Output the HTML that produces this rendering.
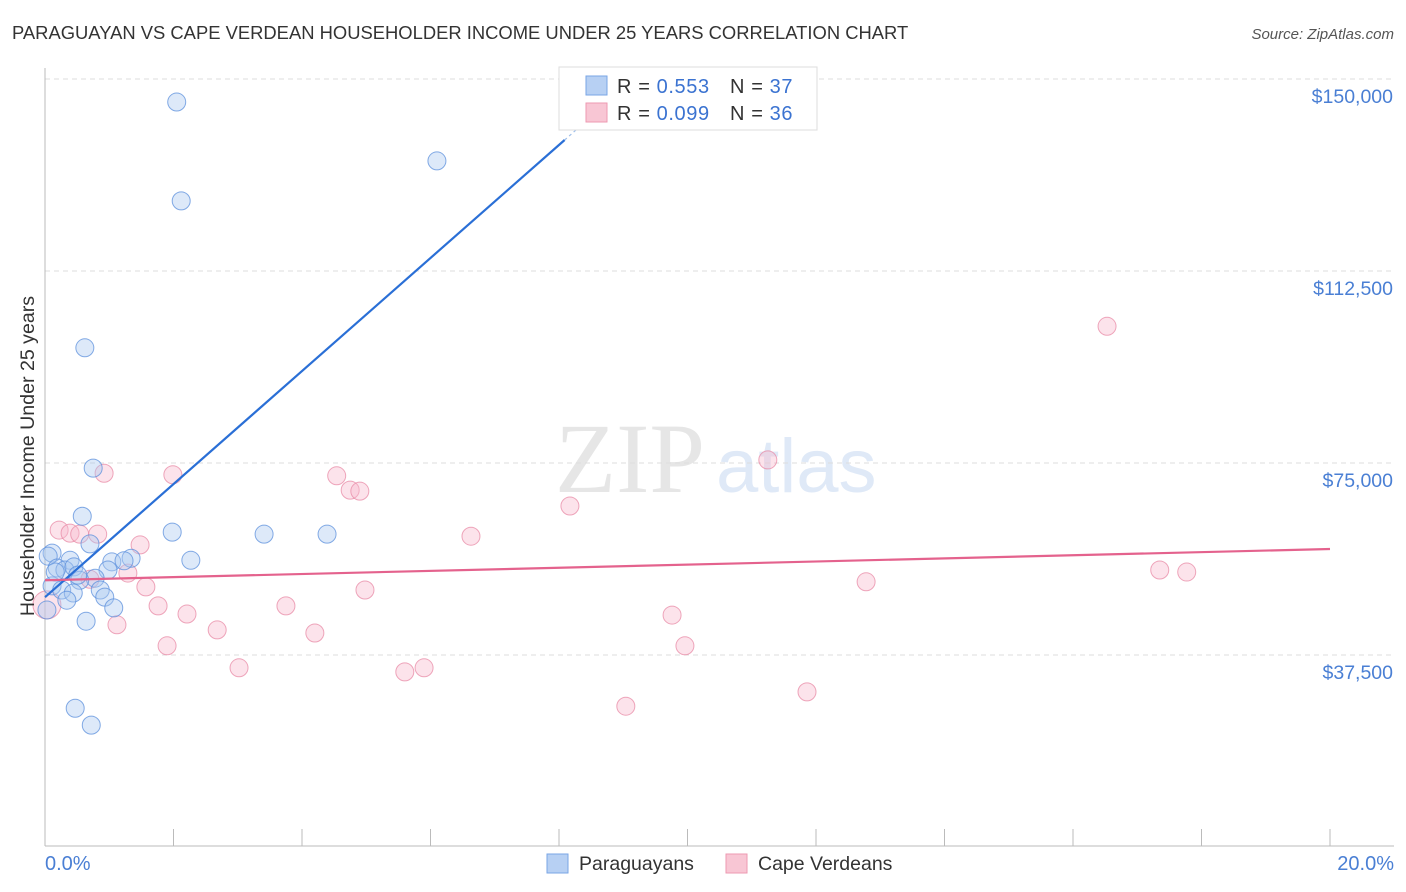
<!DOCTYPE html>
<html><head><meta charset="utf-8"><style>
body{margin:0;background:#fff;font-family:"Liberation Sans",sans-serif;}
svg{display:block}
</style></head><body>
<svg id="chart" width="1406" height="892">
<text x="12" y="39" font-size="18.4" fill="#333">PARAGUAYAN VS CAPE VERDEAN HOUSEHOLDER INCOME UNDER 25 YEARS CORRELATION CHART</text>
<text x="1394" y="39" font-size="15" fill="#555" font-style="italic" text-anchor="end">Source: ZipAtlas.com</text>
<text x="555" y="492" font-size="100" fill="#e6e6e6" font-family="Liberation Serif,serif">ZIP</text>
<text x="716" y="492" font-size="76" fill="#dfe9f7">atlas</text>
<g id="grid"></g><g id="axes"></g><g id="marks"></g>
<text transform="translate(34,456) rotate(-90)" font-size="19.6" fill="#333" text-anchor="middle">Householder Income Under 25 years</text>
<text x="45" y="870" font-size="20" fill="#4a7fd4">0.0%</text>
<text x="1394" y="870" font-size="20" fill="#4a7fd4" text-anchor="end">20.0%</text>
<g>
<rect x="559" y="67" width="258" height="63" fill="#fff" stroke="#ddd"/>
<rect x="586" y="76" width="21" height="19" fill="#b7d0f3" stroke="#7aa6e6"/>
<rect x="586" y="103" width="21" height="19" fill="#f8c6d4" stroke="#ee99b2"/>
<text x="617" y="93" font-size="20" fill="#333" letter-spacing="0.6">R = <tspan fill="#3b73d1">0.553</tspan></text>
<text x="730" y="93" font-size="20" fill="#333" letter-spacing="0.6">N = <tspan fill="#3b73d1">37</tspan></text>
<text x="617" y="120" font-size="20" fill="#333" letter-spacing="0.6">R = <tspan fill="#3b73d1">0.099</tspan></text>
<text x="730" y="120" font-size="20" fill="#333" letter-spacing="0.6">N = <tspan fill="#3b73d1">36</tspan></text>
</g>
<g>
<rect x="547" y="854" width="21" height="19" fill="#b7d0f3" stroke="#7aa6e6"/>
<text x="579" y="870" font-size="19.5" fill="#333">Paraguayans</text>
<rect x="726" y="854" width="21" height="19" fill="#f8c6d4" stroke="#ee99b2"/>
<text x="758" y="870" font-size="19.5" fill="#333">Cape Verdeans</text>
</g>
</svg>
<script>
const yTicks=[37500,75000,112500,150000];
const yTickLabels=["$37,500","$75,000","$112,500","$150,000"];
const blueX=[2.05,6.10,2.12,0.62,0.75,0.58,1.98,3.41,4.39,0.70,0.11,0.05,0.39,2.27,1.34,1.04,1.23,0.19,0.31,0.98,0.45,0.78,0.54,0.11,0.26,0.86,0.44,0.34,0.93,1.07,0.64,0.47,0.72,0.03,0.16,0.51];
const blueY=[145500,134000,126200,97500,74000,64600,61500,61100,61100,59200,57400,56800,56000,56000,56400,55700,55900,54500,54100,54100,54700,52500,52100,51000,50200,50200,49600,48200,48800,46700,44100,27100,23800,46300,53700,53100];
const pinkX=[16.53,11.25,0.92,1.99,4.54,4.75,4.90,8.17,0.22,0.39,0.54,0.82,6.63,1.48,1.29,0.70,1.57,4.98,12.78,17.35,17.77,1.76,2.21,3.75,9.76,1.12,2.68,4.20,1.90,9.96,3.02,5.60,5.90,11.86,9.04,0.03];
const pinkY=[101700,75600,73000,72700,72500,69700,69500,66600,61900,61300,61100,61100,60700,59000,53500,52300,50800,50200,51800,54100,53700,47100,45500,47100,45300,43400,42400,41800,39300,39300,35000,34200,35000,30300,27500,47300];
const blueLine=[48800,11040];
const pinkLine=[52100,305];
const NS='http://www.w3.org/2000/svg';
const sx=v=>45+v*64.25, sy=v=>847-v*192/37500;
function mk(t,a,p){const e=document.createElementNS(NS,t);for(const k in a)e.setAttribute(k,a[k]);p.appendChild(e);return e;}
const grid=document.getElementById('grid'),axes=document.getElementById('axes'),marks=document.getElementById('marks');
yTicks.forEach((v,i)=>{
 const l=mk('line',{x1:45,x2:1394,y1:sy(v),y2:sy(v),stroke:'#ddd','stroke-dasharray':'5,4'},grid);
 
 
 const t=mk('text',{x:1393,y:sy(v)+24,'font-size':19.5,fill:'#4a7fd4','text-anchor':'end'},axes);
 t.textContent=yTickLabels[i];
 
 
});
const ax=mk('line',{x1:45,x2:45,y1:68,y2:846,stroke:'#bbb'},axes);


const bx=mk('line',{x1:45,x2:1394,y1:846,y2:846,stroke:'#bbb'},axes);


for(let i=0;i<=20;i+=2){const t=mk('line',{x1:sx(i),x2:sx(i),y1:829,y2:846,stroke:'#bbb'},axes);
 
 }
function pts(X,Y,fill,stroke,name){X.forEach((x,i)=>{const big=i===X.length-1&&x<0.1;
 const c=mk('circle',{cx:sx(x),cy:sy(Y[i]),r:big?14:9,fill:fill,'fill-opacity':0.4,stroke:stroke,'stroke-width':1,'stroke-opacity':0.75},marks);
 
 });}
pts(pinkX,pinkY,'#f7b9cc','#e889a6','point-cape-verdean');
pts(blueX,blueY,'#a9c8f0','#5b8fdc','point-paraguayan');
const xe=(sy(0)-140)/192*37500; const bxEnd=(xe-blueLine[0])/blueLine[1];
const bl=mk('line',{x1:sx(0),y1:sy(blueLine[0]),x2:sx(bxEnd),y2:sy(blueLine[0]+blueLine[1]*bxEnd),stroke:'#2a6fd6','stroke-width':2.2},marks);


const bd=mk('line',{x1:sx(bxEnd),y1:sy(blueLine[0]+blueLine[1]*bxEnd),x2:sx(bxEnd+0.25),y2:sy(blueLine[0]+blueLine[1]*(bxEnd+0.25)),stroke:'#9fbfea','stroke-width':1.2,'stroke-dasharray':'3,3'},marks);


const pl=mk('line',{x1:sx(0),y1:sy(pinkLine[0]),x2:sx(20),y2:sy(pinkLine[0]+pinkLine[1]*20),stroke:'#e4628d','stroke-width':2.2},marks);


</script>
</body></html>
